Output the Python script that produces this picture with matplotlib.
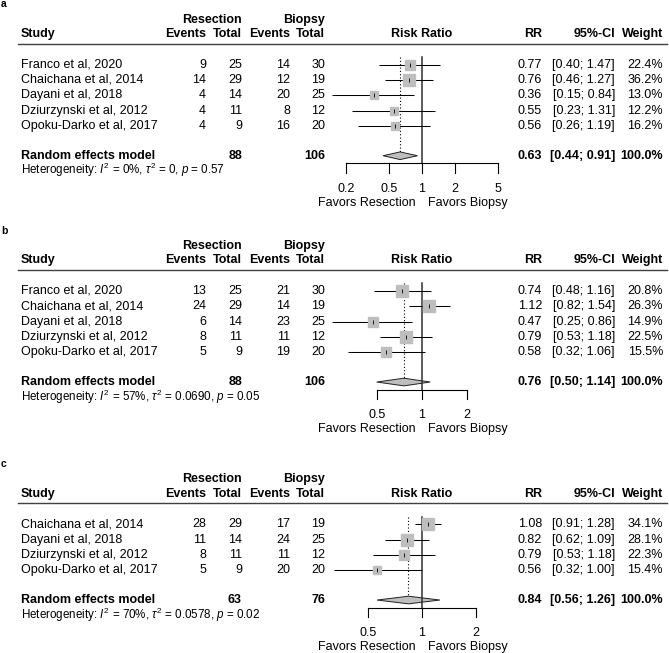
import numpy as np
import matplotlib
matplotlib.use("Agg")
import matplotlib.pyplot as plt
from matplotlib.patches import Polygon

plt.rcParams['font.family'] = ['Liberation Sans', 'DejaVu Sans']
plt.rcParams['mathtext.fontset'] = 'custom'
plt.rcParams['mathtext.rm'] = 'Liberation Sans'
plt.rcParams['mathtext.it'] = 'Liberation Sans:italic'

# ---- data ----
studies_a = ["Franco et al, 2020", "Chaichana et al, 2014", "Dayani et al, 2018",
             "Dziurzynski et al, 2012", "Opoku-Darko et al, 2017"]
res_ev_a = [9, 14, 4, 4, 4]
res_tot_a = [25, 29, 14, 11, 9]
bio_ev_a = [14, 12, 20, 8, 16]
bio_tot_a = [30, 19, 25, 12, 20]
rr_a = [0.77, 0.76, 0.36, 0.55, 0.56]
lo_a = [0.40, 0.46, 0.15, 0.23, 0.26]
hi_a = [1.47, 1.27, 0.84, 1.31, 1.19]
w_a = [22.4, 36.2, 13.0, 12.2, 16.2]
pooled_a = (0.63, 0.44, 0.91)
totals_a = (88, 106)
het_a = ("0%", "0", "0.57")
ticks_a = [0.2, 0.5, 1, 2, 5]

studies_b = studies_a
res_ev_b = [13, 24, 6, 8, 5]
res_tot_b = [25, 29, 14, 11, 9]
bio_ev_b = [21, 14, 23, 11, 19]
bio_tot_b = [30, 19, 25, 12, 20]
rr_b = [0.74, 1.12, 0.47, 0.79, 0.58]
lo_b = [0.48, 0.82, 0.25, 0.53, 0.32]
hi_b = [1.16, 1.54, 0.86, 1.18, 1.06]
w_b = [20.8, 26.3, 14.9, 22.5, 15.5]
pooled_b = (0.76, 0.50, 1.14)
totals_b = (88, 106)
het_b = ("57%", "0.0690", "0.05")
ticks_b = [0.5, 1, 2]

studies_c = ["Chaichana et al, 2014", "Dayani et al, 2018",
             "Dziurzynski et al, 2012", "Opoku-Darko et al, 2017"]
res_ev_c = [28, 11, 8, 5]
res_tot_c = [29, 14, 11, 9]
bio_ev_c = [17, 24, 11, 20]
bio_tot_c = [19, 25, 12, 20]
rr_c = [1.08, 0.82, 0.79, 0.56]
lo_c = [0.91, 0.62, 0.53, 0.32]
hi_c = [1.28, 1.09, 1.18, 1.00]
w_c = [34.1, 28.1, 22.3, 15.4]
pooled_c = (0.84, 0.56, 1.26)
totals_c = (63, 76)
het_c = ("70%", "0.0578", "0.02")
ticks_c = [0.5, 1, 2]

# ---- layout (pixels) ----
W, H = 669, 653
ROW = 15.3
FS = 9
GRAY = '#BEBEBE'

fig = plt.figure(figsize=(W / 100, H / 100), dpi=100)


def draw_panel(label, studies, res_ev, res_tot, bio_ev, bio_tot, rr, lo, hi, w,
               pooled, totals, het, ticks, row0, xext):
    n = len(studies)
    ytop, ybot = -4.6, n + 4.6
    top_px, bot_px = row0 + ytop * ROW, row0 + ybot * ROW
    rect_y = 1 - bot_px / H
    rect_h = (bot_px - top_px) / H

    # table axes, x in pixels
    ax = fig.add_axes([0, rect_y, 1, rect_h])
    ax.set_xlim(0, W)
    ax.set_ylim(ybot, ytop)
    ax.axis('off')

    # forest axes, log scale between first and last tick
    fx = fig.add_axes([xext[0] / W, rect_y, (xext[1] - xext[0]) / W, rect_h])
    fx.set_xscale('log')
    fx.set_xlim(ticks[0], ticks[-1])
    fx.set_ylim(ybot, ytop)
    fx.axis('off')

    t = dict(fontsize=FS, va='center')
    b = dict(fontsize=FS, va='center', fontweight='bold')
    ax.text(1, -3.95, label, fontsize=7.5, fontweight='bold', va='center')

    # header
    ax.text(242, -2.95, "Resection", ha='right', **b)
    ax.text(325, -2.95, "Biopsy", ha='right', **b)
    ax.text(21, -2.0, "Study", ha='left', **b)
    ax.text(206, -2.0, "Events", ha='right', **b)
    ax.text(242, -2.0, "Total", ha='right', **b)
    ax.text(290, -2.0, "Events", ha='right', **b)
    ax.text(325, -2.0, "Total", ha='right', **b)
    ax.text(422, -2.0, "Risk Ratio", ha='center', **b)
    ax.text(542, -2.0, "RR", ha='right', **b)
    ax.text(615, -2.0, "95%-CI", ha='right', **b)
    ax.text(663, -2.0, "Weight", ha='right', **b)
    ax.plot([18, 667], [-1.38, -1.38], color='#404040', lw=1.0)

    # study rows
    for i in range(n):
        ax.text(21, i, studies[i], ha='left', **t)
        ax.text(206, i, str(res_ev[i]), ha='right', **t)
        ax.text(242, i, str(res_tot[i]), ha='right', **t)
        ax.text(290, i, str(bio_ev[i]), ha='right', **t)
        ax.text(325, i, str(bio_tot[i]), ha='right', **t)
        ax.text(542, i, f"{rr[i]:.2f}", ha='right', **t)
        ax.text(615, i, f"[{lo[i]:.2f}; {hi[i]:.2f}]", ha='right', **t)
        ax.text(663, i, f"{w[i]:.1f}%", ha='right', **t)

    # pooled row
    yre = n + 0.95
    ax.text(21, yre, "Random effects model", ha='left', **b)
    ax.text(242, yre, str(totals[0]), ha='right', **b)
    ax.text(325, yre, str(totals[1]), ha='right', **b)
    ax.text(542, yre, f"{pooled[0]:.2f}", ha='right', **b)
    ax.text(615, yre, f"[{pooled[1]:.2f}; {pooled[2]:.2f}]", ha='right', **b)
    ax.text(663, yre, "100.0%", ha='right', **b)
    ax.text(21, n + 1.9,
            rf"Heterogeneity: $I^2$ = {het[0]}, $\tau^2$ = {het[1]}, $p$ = {het[2]}",
            fontsize=8.4, va='center', ha='left')

    # forest
    yax = n + 1.45
    fx.plot([1, 1], [-0.5, yax], color='#303030', lw=1.1, clip_on=False)
    fx.plot([pooled[0], pooled[0]], [-0.5, yre - 0.25], color='black', lw=0.8,
            ls=(0, (1, 2)), clip_on=False)
    wmax = max(w)
    for i in range(n):
        fx.plot([lo[i], hi[i]], [i, i], color='black', lw=0.75, clip_on=False,
                solid_capstyle='butt')
        fx.plot([rr[i]], [i], marker='s', ms=9.1 * np.sqrt(w[i] / wmax),
                color=GRAY, mec=GRAY, ls='none', clip_on=False)
        fx.plot([rr[i]], [i], marker='|', ms=3, mew=0.6, color='black',
                ls='none', clip_on=False)
    dh = 0.25
    fx.add_patch(Polygon([(pooled[1], yre), (pooled[0], yre - dh),
                          (pooled[2], yre), (pooled[0], yre + dh)],
                         closed=True, facecolor=GRAY, edgecolor='#202020',
                         lw=0.7, clip_on=False))

    # x axis
    fx.plot([ticks[0], ticks[-1]], [yax, yax], color='black', lw=0.8, clip_on=False)
    for tk in ticks:
        fx.plot([tk, tk], [yax, n + 2.05], color='black', lw=0.8, clip_on=False)
        fx.text(tk, n + 3.1, f"{tk:g}", ha='center', va='center', fontsize=FS)
    off = matplotlib.transforms.offset_copy(fx.transData, fig=fig, x=-6, y=0,
                                            units='dots')
    fx.text(1, n + 4.05, "Favors Resection", ha='right', va='center',
            fontsize=FS, transform=off)
    off2 = matplotlib.transforms.offset_copy(fx.transData, fig=fig, x=6, y=0,
                                             units='dots')
    fx.text(1, n + 4.05, "Favors Biopsy", ha='left', va='center',
            fontsize=FS, transform=off2)


draw_panel("a", studies_a, res_ev_a, res_tot_a, bio_ev_a, bio_tot_a, rr_a, lo_a,
           hi_a, w_a, pooled_a, totals_a, het_a, ticks_a, 64.7, (345.7, 498.3))
draw_panel("b", studies_b, res_ev_b, res_tot_b, bio_ev_b, bio_tot_b, rr_b, lo_b,
           hi_b, w_b, pooled_b, totals_b, het_b, ticks_b, 291.0, (376.7, 466.7))
draw_panel("c", studies_c, res_ev_c, res_tot_c, bio_ev_c, bio_tot_c, rr_c, lo_c,
           hi_c, w_c, pooled_c, totals_c, het_c, ticks_c, 524.3, (368.3, 475.7))

fig.savefig("out.png", dpi=100)
